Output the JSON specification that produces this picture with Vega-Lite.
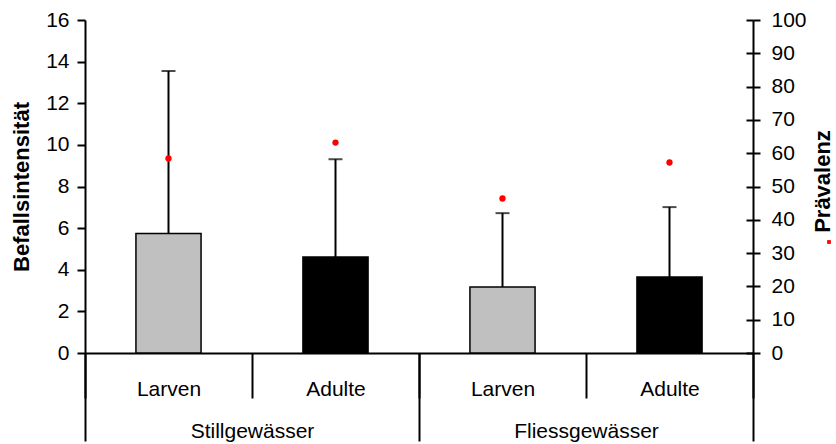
{
  "$schema": "https://vega.github.io/schema/vega-lite/v6.json",
  "width": 668,
  "height": 333,
  "autosize": "none",
  "padding": {"left": 85, "top": 20, "right": 83, "bottom": 91},
  "background": "white",
  "config": {
    "view": {"stroke": null},
    "font": "Liberation Sans",
    "axis": {
      "labelFont": "Liberation Sans",
      "titleFont": "Liberation Sans",
      "labelColor": "black",
      "titleColor": "black",
      "domainColor": "black",
      "tickColor": "black",
      "grid": false,
      "domainWidth": 2,
      "tickWidth": 2
    }
  },
  "data": {
    "values": [
      {"gruppe": "Stillgewässer", "stadium": "Larven", "key": "Stillgewässer|Larven", "intensitaet": 5.74, "oben": 13.55, "praevalenz": 58.4, "serie": "Prävalenz"},
      {"gruppe": "Stillgewässer", "stadium": "Adulte", "key": "Stillgewässer|Adulte", "intensitaet": 4.61, "oben": 9.31, "praevalenz": 63.2, "serie": "Prävalenz"},
      {"gruppe": "Fliessgewässer", "stadium": "Larven", "key": "Fliessgewässer|Larven", "intensitaet": 3.17, "oben": 6.72, "praevalenz": 46.4, "serie": "Prävalenz"},
      {"gruppe": "Fliessgewässer", "stadium": "Adulte", "key": "Fliessgewässer|Adulte", "intensitaet": 3.65, "oben": 7.01, "praevalenz": 57.2, "serie": "Prävalenz"}
    ]
  },
  "resolve": {
    "scale": {"x": "independent", "y": "independent"},
    "axis": {"x": "independent", "y": "independent"}
  },
  "layer": [
    {
      "encoding": {
        "x": {
          "field": "key",
          "type": "nominal",
          "sort": null,
          "scale": {"paddingInner": 0, "paddingOuter": 0},
          "axis": {
            "orient": "bottom",
            "title": null,
            "tickBand": "extent",
            "tickSize": 45,
            "labelPadding": -20,
            "labelAngle": 0,
            "labelFontSize": 21,
            "labelExpr": "split(datum.label, '|')[1]"
          }
        }
      },
      "resolve": {"scale": {"y": "independent"}, "axis": {"y": "independent"}},
      "layer": [
        {
          "layer": [
            {
              "mark": {"type": "bar", "width": {"band": 0.39}, "stroke": "black", "strokeWidth": 1.5},
              "encoding": {
                "y": {
                  "field": "intensitaet",
                  "type": "quantitative",
                  "scale": {"domain": [0, 16]},
                  "axis": {
                    "orient": "left",
                    "title": "Befallsintensität",
                    "titleFontSize": 22,
                    "titleFontWeight": "bold",
                    "titlePadding": 12,
                    "values": [0, 2, 4, 6, 8, 10, 12, 14, 16],
                    "tickSize": 8,
                    "labelPadding": 8,
                    "labelFontSize": 21
                  }
                },
                "fill": {
                  "field": "stadium",
                  "type": "nominal",
                  "scale": {"domain": ["Larven", "Adulte"], "range": ["#C0C0C0", "#000000"]},
                  "legend": null
                }
              }
            },
            {
              "mark": {"type": "rule", "strokeWidth": 2, "color": "black"},
              "encoding": {
                "y": {"field": "intensitaet", "type": "quantitative"},
                "y2": {"field": "oben"}
              }
            },
            {
              "mark": {"type": "tick", "orient": "horizontal", "size": 14, "thickness": 2, "color": "black"},
              "encoding": {
                "y": {"field": "oben", "type": "quantitative"}
              }
            }
          ]
        },
        {
          "mark": {"type": "circle", "size": 40, "opacity": 1},
          "encoding": {
            "y": {
              "field": "praevalenz",
              "type": "quantitative",
              "scale": {"domain": [0, 100]},
              "axis": {
                "orient": "right",
                "title": "Prävalenz",
                "titleAngle": 270,
                "titleFontSize": 22,
                "titleFontWeight": "bold",
                "titlePadding": 28,
                "titleY": 161,
                "values": [0, 10, 20, 30, 40, 50, 60, 70, 80, 90, 100],
                "tickSize": 7,
                "labelPadding": 11,
                "labelFontSize": 21
              }
            },
            "color": {
              "field": "serie",
              "type": "nominal",
              "scale": {"range": ["#FF0000"]},
              "legend": {
                "orient": "none",
                "legendX": 739,
                "legendY": 217,
                "title": null,
                "labelExpr": "''",
                "symbolType": "square",
                "symbolSize": 14,
                "padding": 0
              }
            }
          }
        },
        {
          "mark": {"type": "point", "opacity": 0},
          "encoding": {
            "y": {
              "field": "praevalenz",
              "type": "quantitative",
              "scale": {"domain": [0, 100]},
              "axis": {
                "orient": "right",
                "title": null,
                "labels": false,
                "domain": false,
                "tickSize": -7,
                "values": [0, 10, 20, 30, 40, 50, 60, 70, 80, 90, 100]
              }
            }
          }
        }
      ]
    },
    {
      "mark": {"type": "bar", "opacity": 0},
      "encoding": {
        "x": {
          "field": "gruppe",
          "type": "nominal",
          "sort": null,
          "scale": {"paddingInner": 0, "paddingOuter": 0},
          "axis": {
            "orient": "bottom",
            "title": null,
            "domain": false,
            "tickBand": "extent",
            "tickSize": 88,
            "labelPadding": -21,
            "labelAngle": 0,
            "labelFontSize": 21
          }
        }
      }
    }
  ]
}
